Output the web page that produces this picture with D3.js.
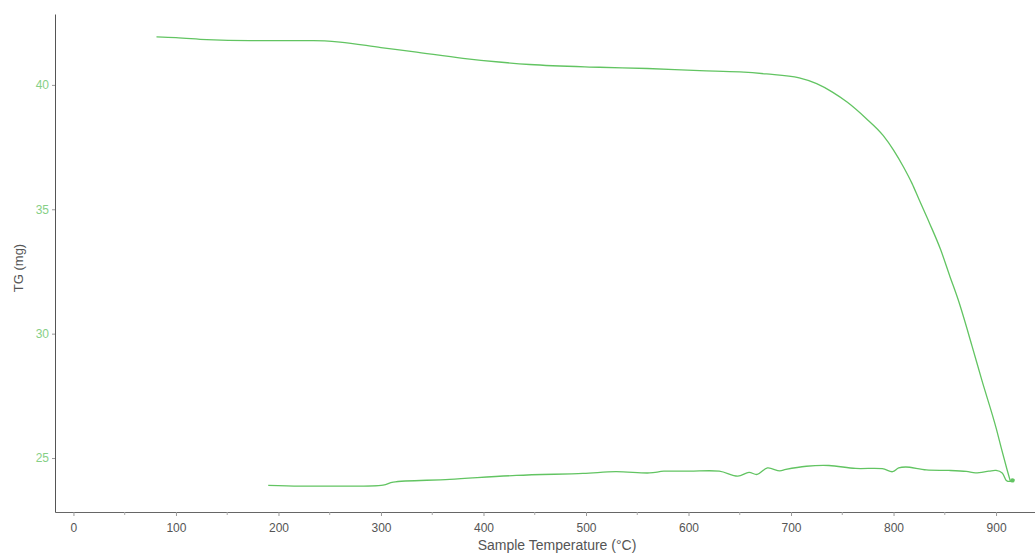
<!DOCTYPE html>
<html>
<head>
<meta charset="utf-8">
<script src="https://cdn.jsdelivr.net/npm/d3@7"></script>
<style>
  body { margin: 0; background: #fff; }
  svg { display: block; font-family: "Liberation Sans", Arial, sans-serif; }
</style>
</head>
<body>
<svg id="chart"></svg>
<script>
// heating run: temperature (°C) and mass (mg)
var heatT = [81, 100, 130, 172, 234, 260, 300, 331, 380, 415, 445, 513, 560, 611, 650, 676, 708, 725, 740, 755, 773, 790, 800, 810, 818, 825, 835, 846, 855, 863, 876.6, 886, 900.5, 905, 910.7, 914];
var heatTG = [41.93, 41.9, 41.82, 41.78, 41.78, 41.72, 41.5, 41.34, 41.07, 40.92, 40.82, 40.71, 40.66, 40.57, 40.52, 40.44, 40.28, 40.05, 39.72, 39.3, 38.66, 37.96, 37.38, 36.68, 36.04, 35.38, 34.45, 33.37, 32.3, 31.37, 29.5, 28.15, 26.14, 25.42, 24.54, 24.06];

// cooling run back down
var coolT = [918, 914, 910, 906, 900, 893, 880, 871, 854, 832, 812, 805, 799, 789, 763, 737, 715, 695, 689, 677, 667, 659, 648, 630, 601, 576, 562, 529, 497, 432, 367, 312, 302, 253, 221, 190];
var coolTG = [24.14, 24.06, 24.1, 24.4, 24.5, 24.47, 24.4, 24.46, 24.5, 24.52, 24.64, 24.6, 24.45, 24.57, 24.58, 24.7, 24.67, 24.54, 24.48, 24.6, 24.34, 24.42, 24.27, 24.47, 24.47, 24.47, 24.4, 24.45, 24.38, 24.3, 24.14, 24.03, 23.91, 23.87, 23.87, 23.9];

var xTicks = [0, 100, 200, 300, 400, 500, 600, 700, 800, 900];
var xMinor = [50, 150, 250, 350, 450, 550, 650, 750, 850];
var yTicks = [25, 30, 35, 40];

var W = 1035, H = 554;
var margin = {top: 14, right: 0, bottom: 42, left: 55};
var width = W - margin.left - margin.right,
    height = H - margin.top - margin.bottom;

var svg = d3.select("#chart").attr("width", W).attr("height", H);
var g = svg.append("g").attr("transform", "translate(" + margin.left + "," + margin.top + ")");

var x = d3.scaleLinear().domain([-18, 938]).range([0, width]);
var y = d3.scaleLinear().domain([22.83, 42.85]).range([height, 0]);

var lineColor = "#62c462";

// x axis
var xAxis = g.append("g")
    .attr("transform", "translate(0," + height + ")")
    .call(d3.axisBottom(x).tickValues(xTicks).tickSize(4).tickSizeOuter(0).tickPadding(7));
xAxis.select(".domain").attr("stroke", "#666");
xAxis.selectAll(".tick line").attr("stroke", "#999");
xAxis.selectAll("text").attr("fill", "#555").attr("font-size", "12px");

g.append("g")
    .attr("transform", "translate(0," + height + ")")
    .selectAll("line")
    .data(xMinor)
    .enter()
    .append("line")
    .attr("x1", function(d) { return x(d); })
    .attr("x2", function(d) { return x(d); })
    .attr("y1", 0)
    .attr("y2", 3)
    .attr("stroke", "#aaa");

// y axis
var yAxis = g.append("g")
    .call(d3.axisLeft(y).tickValues(yTicks).tickSize(3).tickSizeOuter(0).tickPadding(3));
yAxis.select(".domain").attr("stroke", "#555");
yAxis.selectAll(".tick line").attr("stroke", "#999");
yAxis.selectAll("text").attr("fill", "#86cf86").attr("font-size", "12px");

// axis titles
svg.append("text")
    .attr("x", 557)
    .attr("y", 550)
    .attr("text-anchor", "middle")
    .attr("fill", "#555")
    .attr("font-size", "14px")
    .text("Sample Temperature (°C)");

svg.append("text")
    .attr("transform", "translate(23," + 268 + ") rotate(-90)")
    .attr("text-anchor", "middle")
    .attr("fill", "#555")
    .attr("font-size", "13px")
    .text("TG (mg)");

// curves
var line = d3.line()
    .x(function(d) { return x(d[0]); })
    .y(function(d) { return y(d[1]); })
    .curve(d3.curveMonotoneX);

var heatData = heatT.map(function(t, i) { return [t, heatTG[i]]; });
var coolData = coolT.map(function(t, i) { return [t, coolTG[i]]; });

g.append("path")
    .datum(heatData)
    .attr("fill", "none")
    .attr("stroke", lineColor)
    .attr("stroke-width", 1.3)
    .attr("d", line);

g.append("path")
    .datum(coolData)
    .attr("fill", "none")
    .attr("stroke", lineColor)
    .attr("stroke-width", 1.3)
    .attr("d", line.curve(d3.curveCatmullRom));

// end marker
g.append("circle")
    .attr("cx", x(916))
    .attr("cy", y(24.1))
    .attr("r", 2.2)
    .attr("fill", lineColor);
</script>
</body>
</html>
